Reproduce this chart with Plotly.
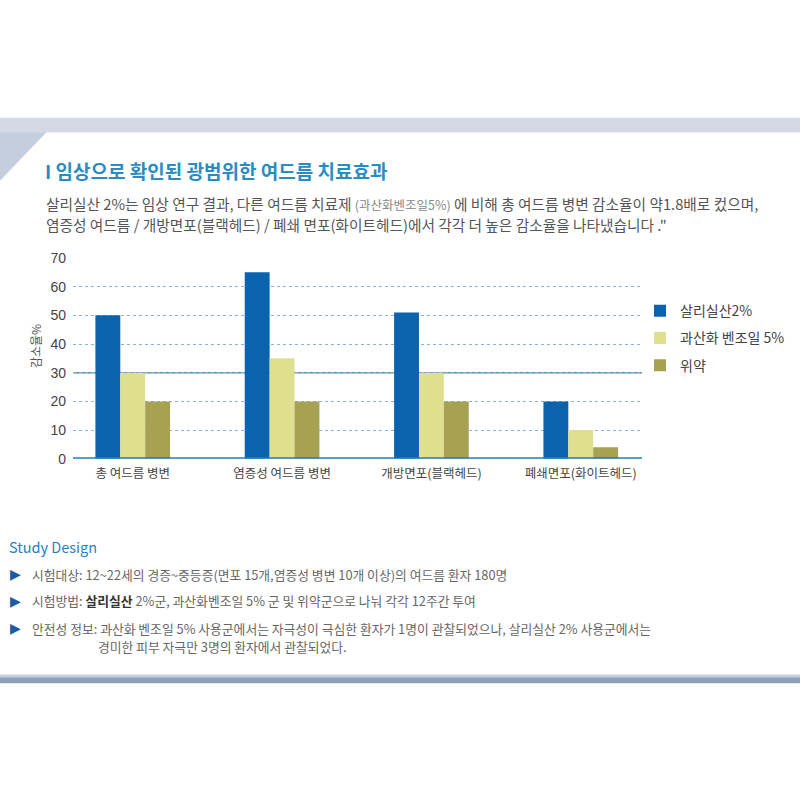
import plotly.graph_objects as go

categories = ["총 여드름 병변", "염증성 여드름 병변", "개방면포(블랙헤드)", "폐쇄면포(화이트헤드)"]
series_names = ["살리실산2%", "과산화 벤조일 5%", "위약"]
salicylic = [50, 65, 51, 20]
benzoyl = [30, 35, 30, 10]
placebo = [20, 20, 20, 4]
y_ticks = [0, 10, 20, 30, 40, 50, 60, 70]
colors = ["#0b63ae", "#dfe08f", "#a7a154"]

W = H = 800
def px(x):
    return x / W
def py(y):
    return 1 - y / H

FONT = "Noto Sans CJK KR"

fig = go.Figure()
for name, vals, c in zip(series_names, [salicylic, benzoyl, placebo], colors):
    fig.add_trace(go.Bar(x=categories, y=vals, name=name, marker=dict(color=c, line=dict(width=0)),
                         legendgroup=name))

shapes = []
# frame top band with slanted left corner
shapes.append(dict(type="path", xref="paper", yref="paper",
                   path=f"M 0 {py(112)} L 1 {py(112)} L 1 {py(127)} L {px(46)} {py(127)} L 0 {py(176)} Z",
                   fillcolor="#d3dae6", line=dict(width=0), layer="below"))
shapes.append(dict(type="path", xref="paper", yref="paper",
                   path=f"M 0 {py(127)} L {px(46)} {py(127)} L 0 {py(176)} Z",
                   fillcolor="#c5cedc", line=dict(width=0), layer="below"))
# bottom band
shapes.append(dict(type="rect", xref="paper", yref="paper", x0=0, x1=1, y0=py(680), y1=py(683),
                   fillcolor="#c9d1dd", line=dict(width=0), layer="below"))
shapes.append(dict(type="rect", xref="paper", yref="paper", x0=0, x1=1, y0=py(683), y1=py(689),
                   fillcolor="#8fa1ba", line=dict(width=0), layer="below"))
# solid line at 30 and baseline
shapes.append(dict(type="line", xref="x domain", yref="y", x0=0, x1=1, y0=30, y1=30,
                   line=dict(color="#4f93bd", width=1.5), layer="below"))
shapes.append(dict(type="line", xref="x domain", yref="y", x0=0, x1=1, y0=0, y1=0,
                   line=dict(color="#1f7fbd", width=3), layer="above"))

annotations = []
annotations.append(dict(xref="paper", yref="paper", x=px(43), y=py(166), xanchor="left", yanchor="middle",
                        text="<b>I 임상으로 확인된 광범위한 여드름 치료효과</b>", showarrow=False,
                        font=dict(family=FONT, size=19, color="#2b8cc4")))
annotations.append(dict(xref="paper", yref="paper", x=px(44), y=py(199), xanchor="left", yanchor="middle",
                        text="살리실산 2%는 임상 연구 결과, 다른 여드름 치료제 <span style='font-size:12.5px;color:#888'>(과산화벤조일5%)</span> 에 비해 총 여드름 병변 감소율이 약1.8배로 컸으며,",
                        showarrow=False, font=dict(family=FONT, size=14.7, color="#555555")))
annotations.append(dict(xref="paper", yref="paper", x=px(44), y=py(221), xanchor="left", yanchor="middle",
                        text="염증성 여드름 / 개방면포(블랙헤드) / 폐쇄 면포(화이트헤드)에서 각각 더 높은 감소율을 나타냈습니다 .\"",
                        showarrow=False, font=dict(family=FONT, size=14.7, color="#555555")))
# y axis title
annotations.append(dict(xref="paper", yref="paper", x=px(35), y=py(345), xanchor="center", yanchor="middle",
                        text="감소율%", textangle=-90, showarrow=False,
                        font=dict(family=FONT, size=12, color="#555555")))
# study design
annotations.append(dict(xref="paper", yref="paper", x=px(7), y=py(549), xanchor="left", yanchor="middle",
                        text="Study Design", showarrow=False,
                        font=dict(family=FONT, size=14.5, color="#2a7fc0")))
lines = [
    (578, "시험대상: 12~22세의 경증~중등증(면포 15개,염증성 병변 10개 이상)의 여드름 환자 180명"),
    (605, "시험방법: <b><span style='color:#333'>살리실산</span></b> 2%군, 과산화벤조일 5% 군 및 위약군으로 나눠 각각 12주간 투여"),
    (633, "안전성 정보: 과산화 벤조일 5% 사용군에서는 자극성이 극심한 환자가 1명이 관찰되었으나, 살리실산 2% 사용군에서는"),
]
for y, t in lines:
    annotations.append(dict(xref="paper", yref="paper", x=px(30), y=py(y), xanchor="left", yanchor="middle",
                            text=t, showarrow=False, font=dict(family=FONT, size=12.8, color="#666666")))
    annotations.append(dict(xref="paper", yref="paper", x=px(8), y=py(y), xanchor="left", yanchor="middle",
                            text="▶", showarrow=False, font=dict(family="DejaVu Sans", size=14, color="#1b5c9e")))
annotations.append(dict(xref="paper", yref="paper", x=px(96), y=py(652), xanchor="left", yanchor="middle",
                        text="경미한 피부 자극만 3명의 환자에서 관찰되었다.", showarrow=False,
                        font=dict(family=FONT, size=12.8, color="#666666")))

fig.update_layout(
    width=W, height=H,
    margin=dict(l=0, r=0, t=0, b=0),
    paper_bgcolor="white", plot_bgcolor="white",
    barmode="group", bargap=0.5, bargroupgap=0,
    font=dict(family=FONT, color="#444444"),
    showlegend=True,
    legend=dict(x=px(640), y=py(293), xanchor="left", yanchor="top",
                font=dict(family=FONT, size=14, color="#444444"),
                tracegroupgap=6, bgcolor="rgba(0,0,0,0)", itemwidth=30),
    shapes=shapes, annotations=annotations,
    xaxis=dict(domain=[px(73), px(642)], range=[-0.40, 3.41], showgrid=False, showline=False,
               ticks="", tickfont=dict(family=FONT, size=12.5, color="#444444"), ticklabelstandoff=6),
    yaxis=dict(domain=[py(460), py(255)], range=[0, 70], tickvals=y_ticks, showgrid=True,
               gridcolor="#8fb0c9", griddash="dot", gridwidth=1, zeroline=False, showline=False,
               ticks="", tickfont=dict(family="Liberation Sans", size=14, color="#444444"),
               ticklabelstandoff=6),
)

post = (
    "var gd=document.querySelector('.plotly-graph-div');"
    "gd.style.position='fixed';gd.style.left='0px';gd.style.top='0px';"
    "document.body.style.margin='0';document.body.style.height='800px';"
    "document.body.style.overflow='hidden';document.documentElement.style.overflow='hidden';"
)
fig.write_html("out.html", config={"displayModeBar": False}, post_script=post)
